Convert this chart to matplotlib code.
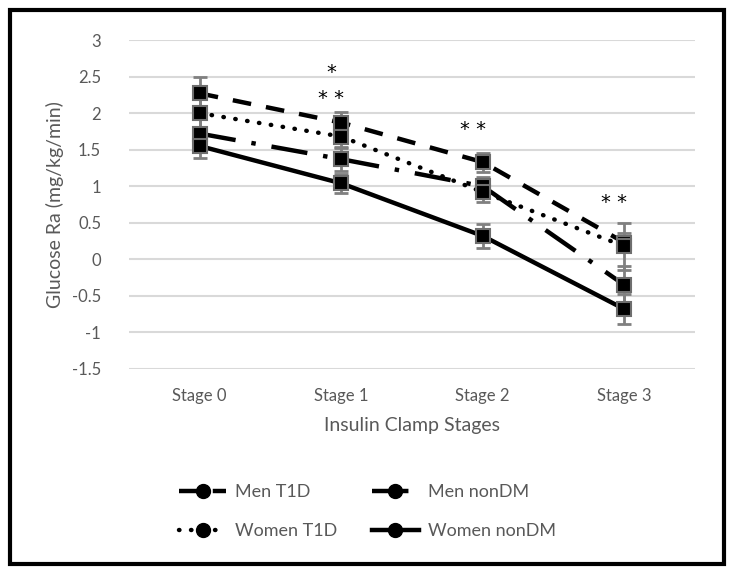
import matplotlib
matplotlib.use("Agg")
import matplotlib.pyplot as plt
from matplotlib.lines import Line2D
from matplotlib.patches import Rectangle

plt.rcParams["font.family"] = ["Lato", "DejaVu Sans"]

stages = ["Stage 0", "Stage 1", "Stage 2", "Stage 3"]
series_names = ["Men T1D", "Men nonDM", "Women T1D", "Women nonDM"]

men_t1d = [2.27, 1.87, 1.33, 0.23]
men_nondm = [1.72, 1.37, 1.00, -0.35]
women_t1d = [2.00, 1.68, 0.92, 0.18]
women_nondm = [1.55, 1.04, 0.32, -0.68]

men_t1d_err = [0.23, 0.14, 0.13, 0.13]
men_nondm_err = [0.20, 0.16, 0.12, 0.26]
women_t1d_err = [0.20, 0.16, 0.14, 0.32]
women_nondm_err = [0.17, 0.13, 0.16, 0.20]

# significance marks: (stage index, y, text)
stars = [(1, 2.56, "*"), (1, 2.20, "* *"), (2, 1.78, "* *"), (3, 0.78, "* *")]

GRID = "#d9d9d9"
TXT = "#595959"
ERR = "#808080"
LW = 3.2

styles = {
    "Men T1D": dict(linestyle=(0, (4.2, 3.4))),
    "Men nonDM": dict(linestyle=(0, (8.2, 3.6, 1.0, 3.6))),
    "Women T1D": dict(linestyle=(0, (0.1, 2.6)), dash_capstyle="round"),
    "Women nonDM": dict(linestyle="-"),
}
data = {
    "Men T1D": (men_t1d, men_t1d_err),
    "Men nonDM": (men_nondm, men_nondm_err),
    "Women T1D": (women_t1d, women_t1d_err),
    "Women nonDM": (women_nondm, women_nondm_err),
}

fig = plt.figure(figsize=(7.35, 5.75), dpi=100)
ax = fig.add_axes([0.1755, 0.3583, 0.770, 0.5721])

x = list(range(len(stages)))
for name in series_names:
    vals, errs = data[name]
    ax.errorbar(x, vals, yerr=errs, fmt="none", ecolor=ERR, elinewidth=2,
                capsize=5, capthick=2, zorder=2)
for name in series_names:
    vals, errs = data[name]
    ax.plot(x, vals, color="black", lw=LW, marker="s", markersize=10,
            markerfacecolor="black", markeredgecolor="#6e6e6e",
            markeredgewidth=1.5, zorder=3, **styles[name])

for i, y, t in stars:
    ax.text(i - 0.07, y, t, ha="center", va="center", fontsize=14,
            color="black", family="DejaVu Sans")

ax.set_xlim(-0.5, 3.5)
ax.set_ylim(-1.5, 3)
ax.set_yticks([-1.5, -1, -0.5, 0, 0.5, 1, 1.5, 2, 2.5, 3])
ax.set_yticklabels(["-1.5", "-1", "-0.5", "0", "0.5", "1", "1.5", "2", "2.5", "3"])
ax.set_xticks(x)
ax.set_xticklabels(stages)
ax.tick_params(length=0, labelsize=12, labelcolor=TXT)
ax.tick_params(axis="y", pad=20)
ax.tick_params(axis="x", pad=14)
ax.grid(axis="y", color=GRID, lw=1.5)
ax.set_axisbelow(True)
for s in ax.spines.values():
    s.set_visible(False)

ax.set_xlabel("Insulin Clamp Stages", fontsize=14, color=TXT, labelpad=9)
ax.set_ylabel("Glucose Ra (mg/kg/min)", fontsize=14, color=TXT, labelpad=6)

# legend fills column-wise: put men in row 1, women in row 2
leg_order = ["Men T1D", "Women T1D", "Men nonDM", "Women nonDM"]
handles = [Line2D([], [], color="black", lw=LW, marker="o", markersize=10,
                  **styles[n]) for n in leg_order]
fig.legend(handles, leg_order, loc="center", bbox_to_anchor=(0.5, 0.11),
           ncol=2, frameon=False, fontsize=13, labelcolor=TXT,
           handlelength=2.6, labelspacing=1.25, columnspacing=1.9,
           handletextpad=0.5)

fig.patches.append(Rectangle((0.0136, 0.0191), 0.9714, 0.9635,
                             transform=fig.transFigure, fill=False,
                             lw=3, edgecolor="black"))

fig.savefig("out.png", dpi=100)
